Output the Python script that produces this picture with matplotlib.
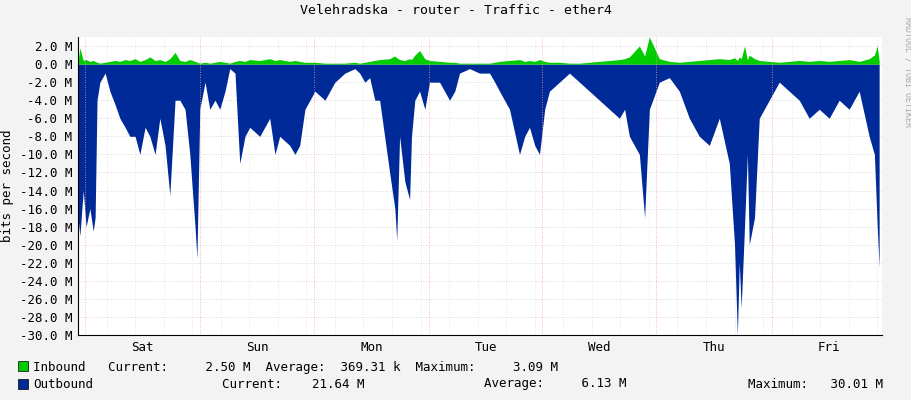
import matplotlib.pyplot as plt
from matplotlib.patches import Rectangle

# time in hours from left edge (Thu ~22:30), values in Mbit/s
hours = [0, 0.4, 1.1, 1.7, 2.5, 3.2, 3.6, 4.0, 4.6, 5.7, 6.7, 7.8, 8.8, 9.9, 10.9, 12.0, 13.0, 14.1, 15.1, 16.2,
         17.2, 18.3, 19.3, 20.4, 21.4, 22.5, 23.5, 24.6, 25.0, 25.6, 26.7, 27.7, 28.8, 29.8, 30.9, 31.9, 33.0, 34.0,
         35.1, 36.1, 38.2, 40.3, 41.4, 42.4, 44.5, 45.6, 46.6, 47.7, 49.8, 51.9, 54.0, 56.1, 58.2, 59.2, 60.3, 61.3,
         62.4, 63.4, 65.5, 66.6, 67.0, 67.6, 68.7, 69.7, 70.1, 70.8, 71.8, 72.9, 73.9, 76.0, 78.1, 79.2, 80.2, 82.3,
         84.4, 86.5, 87.6, 88.6, 90.7, 92.8, 93.9, 94.9, 96.0, 97.0, 98.1, 99.1, 101.2, 103.3, 105.4, 107.5, 109.6,
         111.7, 113.8, 114.9, 115.9, 118.0, 119.1, 120.1, 122.2, 124.3, 126.4, 128.5, 130.6, 132.7, 134.8, 136.9,
         138.0, 138.6, 139.0, 139.4, 140.1, 140.7, 141.1, 142.2, 143.2, 145.3, 147.4, 149.5, 151.6, 153.7, 155.8,
         157.9, 160.0, 162.1, 164.2, 166.3, 167.4, 168.0, 168.4]
outbound = [-17, -19, -14, -18, -16, -18.5, -17, -4, -2, -1, -3, -4.5, -6, -7, -8, -8, -10, -7, -8, -10,
            -6, -9, -14.5, -4, -4, -5, -10, -18, -21.5, -5, -2, -5, -4, -5, -3, -0.5, -1, -11,
            -8, -7, -8, -6, -10, -8, -9, -10, -9, -5, -3, -4, -2, -1, -0.5, -1, -2, -1.5,
            -4, -4, -12, -16, -19.5, -8, -13, -15, -8, -4, -3, -5, -2, -2, -4, -3, -1, -0.5,
            -1, -1, -2, -3, -5, -10, -8, -7, -9, -10, -5, -3, -2, -1, -2, -3, -4,
            -5, -6, -5, -8, -10, -17, -5, -2, -1.5, -3, -6, -8, -9, -6, -11,
            -20, -30, -22, -27, -18, -10, -20, -17, -6, -4, -2, -3, -4, -6, -5,
            -6, -4, -5, -3, -8, -10, -18, -22.5]
inbound = [0.3, 1.8, 0.4, 0.5, 0.3, 0.4, 0.3, 0.2, 0.1, 0.2, 0.3, 0.4, 0.3, 0.5, 0.4, 0.6, 0.3, 0.5, 0.8, 0.4,
           0.5, 0.3, 0.6, 1.3, 0.4, 0.3, 0.5, 0.3, 0.2, 0.1, 0.2, 0.1, 0.2, 0.3, 0.2, 0.1, 0.3, 0.4,
           0.3, 0.5, 0.4, 0.6, 0.4, 0.5, 0.3, 0.4, 0.3, 0.2, 0.2, 0.1, 0.1, 0.1, 0.2, 0.1, 0.2, 0.3,
           0.4, 0.5, 0.6, 0.9, 0.7, 0.5, 0.4, 0.6, 0.5, 1.0, 1.5, 0.6, 0.4, 0.3, 0.2, 0.2, 0.1, 0.1,
           0.1, 0.1, 0.2, 0.3, 0.4, 0.5, 0.3, 0.4, 0.3, 0.5, 0.3, 0.2, 0.2, 0.1, 0.1, 0.2, 0.3,
           0.4, 0.5, 0.6, 0.8, 2.0, 0.9, 3.0, 0.6, 0.3, 0.2, 0.3, 0.4, 0.5, 0.6, 0.5,
           0.7, 0.4, 0.8, 0.6, 2.0, 0.5, 1.0, 0.6, 0.4, 0.3, 0.2, 0.3, 0.4, 0.3, 0.4,
           0.3, 0.4, 0.5, 0.3, 0.6, 1.0, 2.0, 0.4]
assert len(hours) == len(outbound) == len(inbound)
days = ["Sat", "Sun", "Mon", "Tue", "Wed", "Thu", "Fri"]
midnights = [1.5, 25.6, 49.7, 73.7, 97.6, 121.6, 145.8]
yticks = list(range(2, -31, -2))

plt.rcParams["font.family"] = "DejaVu Sans Mono"
fig = plt.figure(figsize=(9.11, 4.0), dpi=100, facecolor="#f3f3f3")
ax = fig.add_axes([78 / 911, 65 / 400, 804 / 911, 298 / 400])
ax.set_facecolor("white")
ax.fill_between(hours, outbound, 0, color="#002a97", lw=0)
ax.fill_between(hours, inbound, 0, color="#00cc00", lw=0)
ax.set_xlim(0, 169)
ax.set_ylim(-30, 3)
ax.set_yticks(yticks)
ax.set_yticklabels([f"{v:.1f} M" for v in yticks], fontsize=9)
ax.set_xticks([m + 12 for m in midnights])
ax.set_xticklabels(days, fontsize=9)
ax.tick_params(length=0, pad=4)
for v in yticks:
    ax.axhline(v, color="#cccccc", lw=0.6, ls=(0, (1, 2)), zorder=0)
for h in range(0, 170, 6):
    ax.axvline(h, color="#dddddd", lw=0.6, ls=(0, (1, 2)), zorder=0)
for m in midnights:
    ax.axvline(m, color="#ff9999", lw=0.6, ls=(0, (1, 2)), zorder=3)
for s in ["top", "right"]:
    ax.spines[s].set_visible(False)
ax.set_ylabel("bits per second", fontsize=9)
fig.text(0.5, 0.965, "Velehradska - router - Traffic - ether4", ha="center", fontsize=9.5)
fig.text(0.992, 0.82, "RRDTOOL / TOBI OETIKER", rotation=270, fontsize=6, color="#aaaaaa", va="center")
fig.patches.append(Rectangle((18 / 911, 1 - 371 / 400), 10 / 911, 10 / 400, transform=fig.transFigure,
                             facecolor="#00cc00", edgecolor="black", lw=0.5))
fig.patches.append(Rectangle((18 / 911, 1 - 389 / 400), 10 / 911, 10 / 400, transform=fig.transFigure,
                             facecolor="#002a97", edgecolor="black", lw=0.5))
fig.text(33 / 911, 1 - 367 / 400, "Inbound   Current:     2.50 M  Average:  369.31 k  Maximum:     3.09 M",
         fontsize=9, va="center")
fig.text(33 / 911, 1 - 384 / 400, "Outbound", fontsize=9, va="center")
fig.text(222 / 911, 1 - 384 / 400, "Current:    21.64 M", fontsize=9, va="center")
fig.text(484 / 911, 1 - 384 / 400, "Average:     6.13 M", fontsize=9, va="center")
fig.text(748 / 911, 1 - 384 / 400, "Maximum:   30.01 M", fontsize=9, va="center")
fig.savefig("out.png", dpi=100, facecolor=fig.get_facecolor())
